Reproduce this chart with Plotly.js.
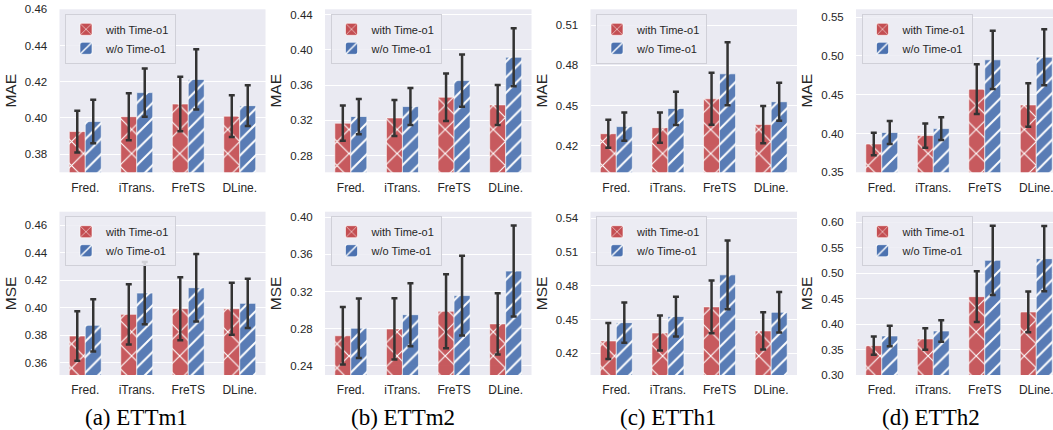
<!DOCTYPE html>
<html>
<head>
<meta charset="utf-8">
<script src="https://cdn.plot.ly/plotly-3.0.1.min.js"></script>
<style>
  html, body { margin: 0; padding: 0; overflow: hidden; background: #ffffff; }
  #chart { width: 1062px; height: 430px; }
</style>
</head>
<body>
<div id="chart"></div>
<script>
// ---------------- data ----------------
const models = ["Fred.", "iTrans.", "FreTS", "DLine."];
const datasets = ["ETTm1", "ETTm2", "ETTh1", "ETTh2"];
const captions = ["(a) ETTm1", "(b) ETTm2", "(c) ETTh1", "(d) ETTh2"];
const seriesNames = ["with Time-o1", "w/o Time-o1"];

// MAE (top row)
const maeWith_ETTm1 = [0.3925, 0.4007, 0.4077, 0.4010];
const maeWithErr_ETTm1 = [0.0115, 0.0130, 0.0150, 0.0115];
const maeWo_ETTm1 = [0.3980, 0.4140, 0.4213, 0.4068];
const maeWoErr_ETTm1 = [0.0120, 0.0133, 0.0166, 0.0113];

const maeWith_ETTm2 = [0.3167, 0.3227, 0.3462, 0.3375];
const maeWithErr_ETTm2 = [0.0200, 0.0204, 0.0270, 0.0227];
const maeWo_ETTm2 = [0.3243, 0.3356, 0.3651, 0.3916];
const maeWoErr_ETTm2 = [0.0200, 0.0210, 0.0297, 0.0330];

const maeWith_ETTh1 = [0.4289, 0.4334, 0.4550, 0.4357];
const maeWithErr_ETTh1 = [0.0105, 0.0113, 0.0195, 0.0140];
const maeWo_ETTh1 = [0.4342, 0.4478, 0.4737, 0.4528];
const maeWoErr_ETTh1 = [0.0106, 0.0124, 0.0236, 0.0143];

const maeWith_ETTh2 = [0.3865, 0.3973, 0.4571, 0.4368];
const maeWithErr_ETTh2 = [0.0144, 0.0157, 0.0320, 0.0280];
const maeWo_ETTh2 = [0.4012, 0.4063, 0.4949, 0.4983];
const maeWoErr_ETTh2 = [0.0149, 0.0146, 0.0375, 0.0360];

// MSE (bottom row)
const mseWith_ETTm1 = [0.3794, 0.3952, 0.3993, 0.3993];
const mseWithErr_ETTm1 = [0.0180, 0.0220, 0.0230, 0.0190];
const mseWo_ETTm1 = [0.3872, 0.4107, 0.4146, 0.4032];
const mseWoErr_ETTm1 = [0.0190, 0.0227, 0.0246, 0.0180];

const mseWith_ETTm2 = [0.2723, 0.2796, 0.2987, 0.2851];
const mseWithErr_ETTm2 = [0.0310, 0.0330, 0.0400, 0.0330];
const mseWo_ETTm2 = [0.2804, 0.2950, 0.3156, 0.3420];
const mseWoErr_ETTm2 = [0.0320, 0.0340, 0.0430, 0.0490];

const mseWith_ETTh1 = [0.4310, 0.4381, 0.4613, 0.4399];
const mseWithErr_ETTh1 = [0.0160, 0.0156, 0.0235, 0.0166];
const mseWo_ETTh1 = [0.4473, 0.4527, 0.4898, 0.4565];
const mseWoErr_ETTh1 = [0.0180, 0.0177, 0.0306, 0.0180];

const mseWith_ETTh2 = [0.3577, 0.3708, 0.4540, 0.4239];
const mseWithErr_ETTh2 = [0.0180, 0.0210, 0.0500, 0.0400];
const mseWo_ETTh2 = [0.3767, 0.3865, 0.5254, 0.5287];
const mseWoErr_ETTh2 = [0.0200, 0.0210, 0.0680, 0.0640];

// axis ranges and tick steps
const maeRanges = [[0.370, 0.460], [0.261, 0.446], [0.400, 0.522], [0.350, 0.560]];
const maeSteps = [0.02, 0.04, 0.03, 0.05];
const mseRanges = [[0.351, 0.470], [0.230, 0.406], [0.4007, 0.546], [0.300, 0.621]];
const mseSteps = [0.02, 0.04, 0.03, 0.05];

const panels = [
  {metric: "MAE", w: maeWith_ETTm1, we: maeWithErr_ETTm1, o: maeWo_ETTm1, oe: maeWoErr_ETTm1},
  {metric: "MAE", w: maeWith_ETTm2, we: maeWithErr_ETTm2, o: maeWo_ETTm2, oe: maeWoErr_ETTm2},
  {metric: "MAE", w: maeWith_ETTh1, we: maeWithErr_ETTh1, o: maeWo_ETTh1, oe: maeWoErr_ETTh1},
  {metric: "MAE", w: maeWith_ETTh2, we: maeWithErr_ETTh2, o: maeWo_ETTh2, oe: maeWoErr_ETTh2},
  {metric: "MSE", w: mseWith_ETTm1, we: mseWithErr_ETTm1, o: mseWo_ETTm1, oe: mseWoErr_ETTm1},
  {metric: "MSE", w: mseWith_ETTm2, we: mseWithErr_ETTm2, o: mseWo_ETTm2, oe: mseWoErr_ETTm2},
  {metric: "MSE", w: mseWith_ETTh1, we: mseWithErr_ETTh1, o: mseWo_ETTh1, oe: mseWoErr_ETTh1},
  {metric: "MSE", w: mseWith_ETTh2, we: mseWithErr_ETTh2, o: mseWo_ETTh2, oe: mseWoErr_ETTh2}
];

// ---------------- styling / layout ----------------
const W = 1062, H = 430;
const RED = "#C44E52", BLUE = "#4C72B0";
const TEXT = "#262626";
const FONT = "Liberation Sans, Arial, sans-serif";
const colPx = [[59.5, 265.5], [325, 531.5], [590.5, 797], [856, 1062]];
const rowPx = [[9.3, 172.3], [211.7, 375]];

const traces = [];
const layout = {
  width: W, height: H,
  margin: {l: 0, r: 0, t: 0, b: 0},
  paper_bgcolor: "#ffffff",
  plot_bgcolor: "#EAEAF2",
  barmode: "group",
  bargap: 0.38,
  bargroupgap: 0,
  font: {family: FONT, color: TEXT, size: 11.5},
  annotations: []
};

panels.forEach((p, i) => {
  const row = Math.floor(i / 4), col = i % 4;
  const n = i + 1;
  const xa = n === 1 ? "x" : "x" + n;
  const ya = n === 1 ? "y" : "y" + n;
  const lg = n === 1 ? "legend" : "legend" + n;
  const range = row === 0 ? maeRanges[col] : mseRanges[col];
  const step = row === 0 ? maeSteps[col] : mseSteps[col];

  const common = {
    type: "bar", x: models, xaxis: xa, yaxis: ya, legend: lg,
    showlegend: true, hoverinfo: "skip"
  };
  traces.push(Object.assign({}, common, {
    name: seriesNames[0], y: p.w,
    marker: {color: RED, opacity: 0.92,
      line: {color: "rgba(255,255,255,0.6)", width: 1},
      pattern: {shape: "x", fgcolor: "#ffffff", bgcolor: RED, size: 17, solidity: 0.13, fillmode: "replace"}},
    error_y: {type: "data", array: p.we, visible: true, color: "#333333", thickness: 2.5, width: 3}
  }));
  traces.push(Object.assign({}, common, {
    name: seriesNames[1], y: p.o,
    marker: {color: BLUE, opacity: 0.92,
      line: {color: "rgba(255,255,255,0.6)", width: 1},
      pattern: {shape: "/", fgcolor: "#ffffff", bgcolor: BLUE, size: 11, solidity: 0.18, fillmode: "replace"}},
    error_y: {type: "data", array: p.oe, visible: true, color: "#333333", thickness: 2.5, width: 3}
  }));

  const xKey = n === 1 ? "xaxis" : "xaxis" + n;
  const yKey = n === 1 ? "yaxis" : "yaxis" + n;
  layout[xKey] = {
    domain: [colPx[col][0] / W, colPx[col][1] / W],
    anchor: ya,
    type: "category",
    showgrid: false, zeroline: false, showline: false,
    ticks: "outside", ticklen: 4, tickcolor: "rgba(0,0,0,0)",
    tickfont: {size: 12, color: TEXT, family: FONT},
    fixedrange: true
  };
  layout[yKey] = {
    domain: [1 - rowPx[row][1] / H, 1 - rowPx[row][0] / H],
    anchor: xa,
    range: range,
    dtick: step, tick0: 0,
    tickformat: ".2f",
    showgrid: true, gridcolor: "#ffffff", gridwidth: 1,
    zeroline: false, showline: false,
    ticks: "outside", ticklen: 9, tickcolor: "rgba(0,0,0,0)",
    tickfont: {size: 11.5, color: TEXT, family: FONT},
    title: {text: p.metric, font: {size: 15.5, color: TEXT, family: FONT}, standoff: 4},
    fixedrange: true
  };
  layout[lg] = {
    x: (colPx[col][0] + 5.5) / W,
    y: 1 - (rowPx[row][0] + 4.5) / H,
    xanchor: "left", yanchor: "top",
    bgcolor: "rgba(236,236,243,0.85)",
    bordercolor: "#d0d0d8", borderwidth: 1,
    font: {size: 11, color: TEXT, family: FONT},
    tracegroupgap: 0,
    itemwidth: 30,
    traceorder: "normal"
  };
});

const capCenters = [136.5, 403, 667.5, 931];
captions.forEach((c, i) => {
  layout.annotations.push({
    text: c, xref: "paper", yref: "paper",
    x: capCenters[i] / W, y: 1 - 417 / H,
    xanchor: "center", yanchor: "middle",
    showarrow: false,
    font: {family: "Liberation Serif, Times New Roman, serif", size: 23, color: "#000000"}
  });
});

Plotly.newPlot("chart", traces, layout, {staticPlot: true, displayModeBar: false});
</script>
</body>
</html>
